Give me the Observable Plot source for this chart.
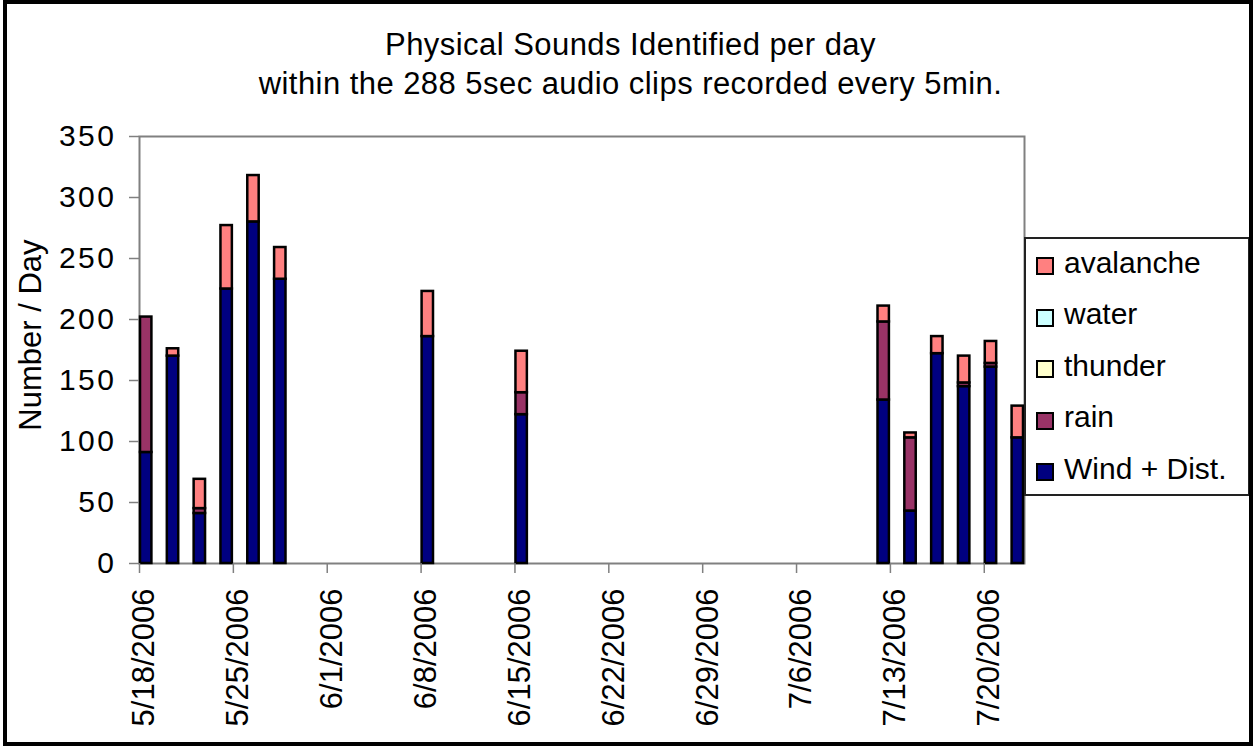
<!DOCTYPE html>
<html>
<head>
<meta charset="utf-8">
<script src="https://cdn.jsdelivr.net/npm/d3@7"></script>
<script src="https://cdn.jsdelivr.net/npm/@observablehq/plot@0.6"></script>
<style>
  html, body { margin: 0; padding: 0; background: #fff; }
  #wrap { position: relative; width: 1254px; height: 746px; overflow: hidden; background: #fff;
          font-family: "Liberation Sans", Arial, sans-serif; color: #000; }
  #wrap svg { position: absolute; left: 0; top: 0; }
  #wrap svg g[aria-label="y-axis tick label"] text { letter-spacing: 2.5px; }
  #title { position: absolute; left: 0; top: 25px; width: 1261px; text-align: center;
           font-size: 31px; line-height: 39px; letter-spacing: 0.45px; }
  #ylabel { position: absolute; left: -119.5px; top: 320px; width: 300px; height: 30px;
            line-height: 30px; font-size: 31px; text-align: center; transform: rotate(-90deg); white-space: nowrap; }
  #legend { position: absolute; left: 1024px; top: 237px; width: 226px; height: 259px;
            border: 2px solid #222; box-sizing: border-box; background: #fff; }
  .item { position: absolute; left: 0; width: 220px; }
  .sw { position: absolute; left: 10px; top: 0; width: 18px; height: 18px; border: 2px solid #000; box-sizing: border-box; }
  .lab { position: absolute; left: 38px; top: -14.4px; line-height: 40px; font-size: 30px; white-space: nowrap; }
  #border { position: absolute; left: 3px; top: 0; width: 1250px; height: 746px; border: 4px solid #000;
            box-sizing: border-box; pointer-events: none; }
</style>
</head>
<body>
<div id="wrap">
  <div id="title">Physical Sounds Identified per day<br>within the 288 5sec audio clips recorded every 5min.</div>
  <div id="ylabel">Number / Day</div>
  <div id="legend"></div>
  <div id="border"></div>
</div>
<script>
// ---- data ----
const dates     = ["2006-05-18","2006-05-20","2006-05-22","2006-05-24","2006-05-26","2006-05-28",
                   "2006-06-08","2006-06-15",
                   "2006-07-12","2006-07-14","2006-07-16","2006-07-18","2006-07-20","2006-07-22"];
const wind      = [ 91, 170, 41, 225, 280, 233, 186, 122, 134, 43, 172, 145, 161, 103];
const rain      = [111,   0,  4,   0,   0,   0,   0,  18,  64, 60,   0,   3,   3,   0];
const thunder   = [  0,   0,  0,   0,   0,   0,   0,   0,   0,  0,   0,   0,   0,   0];
const water     = [  0,   0,  0,   0,   0,   0,   0,   0,   0,  0,   0,   0,   0,   0];
const avalanche = [  0,   6, 24,  52,  38,  26,  37,  34,  13,  4,  14,  22,  18,  26];

const seriesNames  = ["Wind + Dist.", "rain", "thunder", "water", "avalanche"];
const seriesValues = [wind, rain, thunder, water, avalanche];
const seriesColors = ["#000080", "#993366", "#FFFFCC", "#CCFFFF", "#FF8080"];
const legendOrder  = ["avalanche", "water", "thunder", "rain", "Wind + Dist."];

const xTicks = ["2006-05-18","2006-05-25","2006-06-01","2006-06-08","2006-06-15","2006-06-22",
                "2006-06-29","2006-07-06","2006-07-13","2006-07-20"];
const yTicks = [0, 50, 100, 150, 200, 250, 300, 350];
const xDomain = ["2006-05-18", "2006-07-23"];

// ---- table built from the arrays ----
const rows = [];
dates.forEach((d, i) => {
  const date = new Date(d);
  seriesNames.forEach((s, k) => {
    const v = seriesValues[k][i];
    if (v > 0) rows.push({date, end: d3.utcDay.offset(date, 1), series: s, value: v});
  });
});

const fmt = d => `${d.getUTCMonth() + 1}/${d.getUTCDate()}/${d.getUTCFullYear()}`;

const chart = Plot.plot({
  width: 1254,
  height: 746,
  marginLeft: 139,
  marginRight: 230,
  marginTop: 136,
  marginBottom: 183,
  style: {fontFamily: "'Liberation Sans', Arial, sans-serif", fontSize: "30px", background: "transparent", color: "#000"},
  x: {type: "utc", domain: xDomain.map(d => new Date(d))},
  y: {domain: [0, 350]},
  color: {domain: seriesNames, range: seriesColors},
  marks: [
    Plot.frame({stroke: "#808080", strokeWidth: 2}),
    Plot.rectY(rows, {x1: "date", x2: "end", y: "value", fill: "series", stroke: "#000", strokeWidth: 2.5,
                      insetLeft: 1, insetRight: 1}),
    Plot.axisY({ticks: yTicks, tickSize: 10, tickPadding: 13, fontSize: 30, stroke: "#808080",
                strokeWidth: 1.5, label: null}),
    Plot.axisX({ticks: xTicks.map(d => new Date(d)), tickSize: 10, tickFormat: () => "", stroke: "#808080",
                strokeWidth: 1.5, label: null}),
    Plot.axisX({ticks: xTicks.map(d => new Date(d)), tickSize: 0, tickPadding: 25, tickRotate: -90,
                tickFormat: fmt, fontSize: 31, label: null, dx: 5})
  ]
});
const wrap = document.getElementById("wrap");
wrap.insertBefore(chart, wrap.firstChild);

// ---- legend ----
const legend = document.getElementById("legend");
legendOrder.forEach((s, i) => {
  const item = document.createElement("div");
  item.className = "item";
  item.style.top = (18 + i * 51.5) + "px";
  const sw = document.createElement("div");
  sw.className = "sw";
  sw.style.background = seriesColors[seriesNames.indexOf(s)];
  const lab = document.createElement("div");
  lab.className = "lab";
  lab.textContent = s;
  item.appendChild(sw);
  item.appendChild(lab);
  legend.appendChild(item);
});
</script>
</body>
</html>
